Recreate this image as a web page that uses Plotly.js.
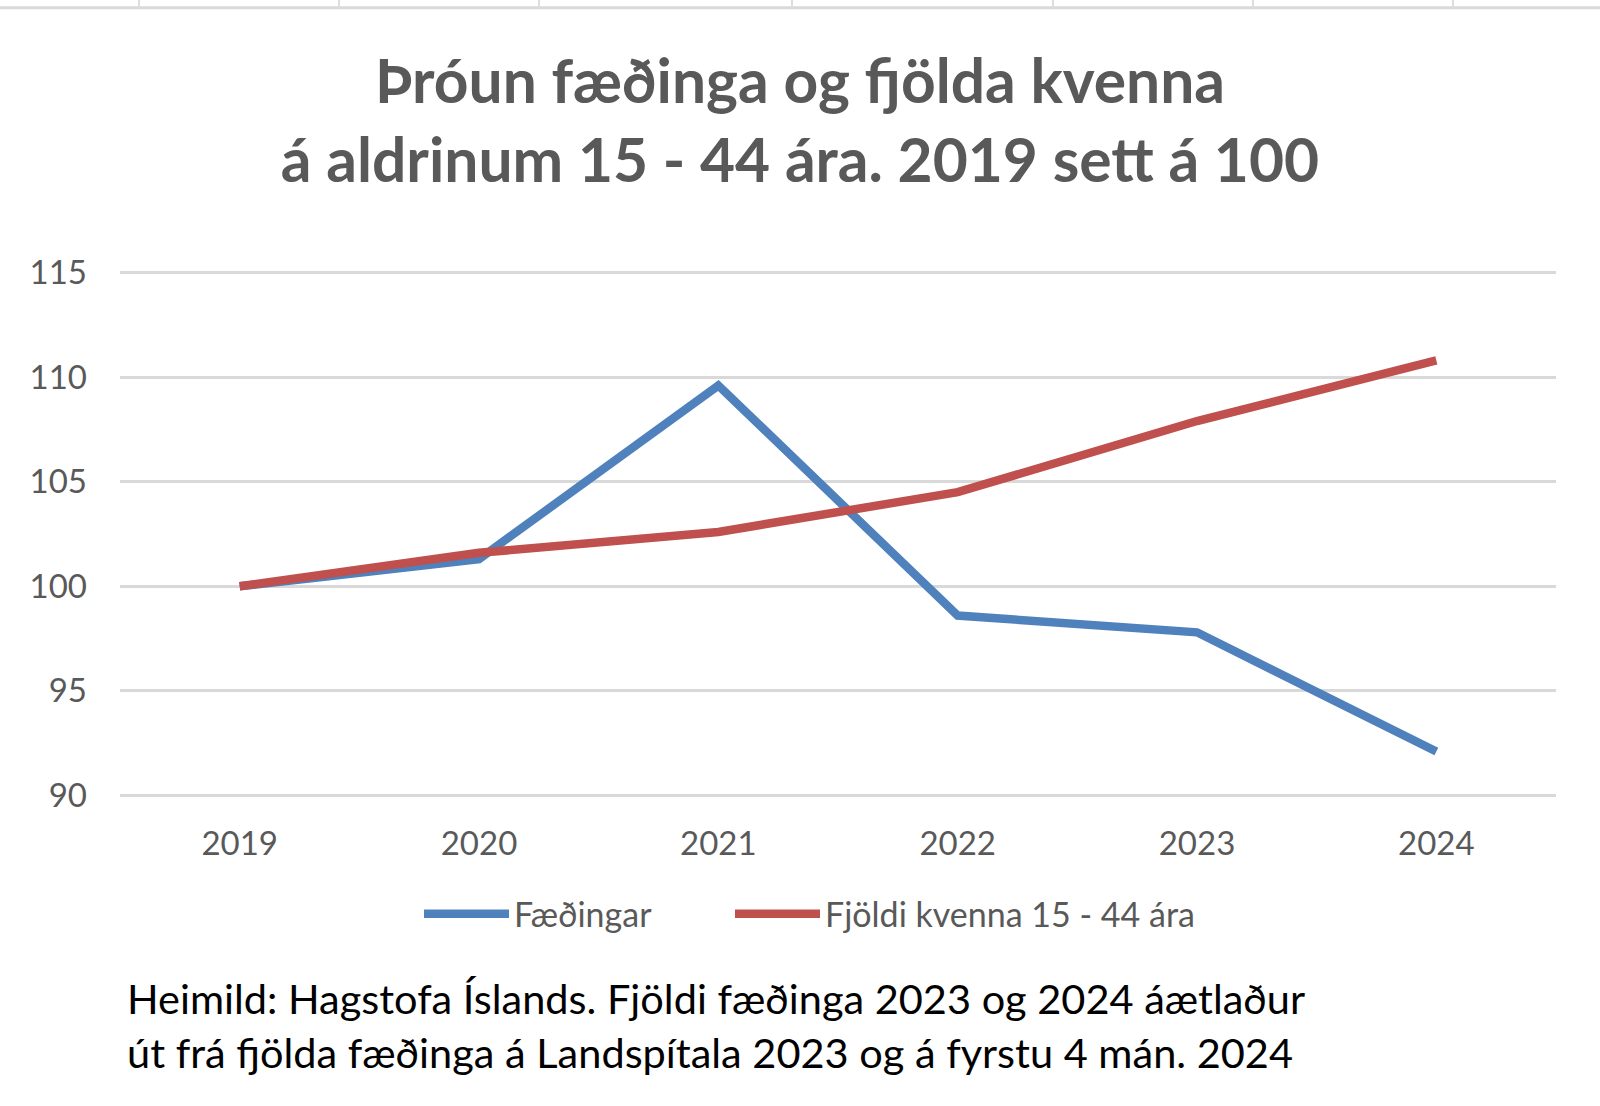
<!DOCTYPE html>
<html>
<head>
<meta charset="utf-8">
<script src="https://cdn.plot.ly/plotly-3.0.1.min.js"></script>
<style>html,body{margin:0;padding:0;background:#fff;}#chart{width:1600px;height:1106px;}</style>
</head>
<body>
<div id="chart"></div>
<script>
const years = ['2019', '2020', '2021', '2022', '2023', '2024'];
const faedingar = [100, 101.3, 109.6, 98.6, 97.8, 92.1];
const fjoldiKvenna = [100, 101.6, 102.6, 104.5, 107.9, 110.8];
const yTicks = [90, 95, 100, 105, 110, 115];
const seriesNames = ['Fæðingar', 'Fjöldi kvenna 15 - 44 ára'];
const titleText = 'Þróun fæðinga og fjölda kvenna<br>á aldrinum 15 - 44 ára. 2019 sett á 100';
const sourceLines = [
  'Heimild: Hagstofa Íslands. Fjöldi fæðinga 2023 og 2024 áætlaður',
  'út frá fjölda fæðinga á Landspítala 2023 og á fyrstu 4 mán. 2024'
];

const FONT = 'Lato, "Open Sans", sans-serif';
const W = 1600, H = 1106;
const unit = 20.9;       // px per y unit
const pad = 0.12;        // small range padding so edge gridlines are drawn
const yLo = 90 - pad, yHi = 115 + pad;
const L = 120, R = 44;
const T = 273 - pad * unit;
const B = H - 795.5 - pad * unit;
const plotW = W - L - R, plotH = H - T - B;
const px = X => (X - L) / plotW;
const py = Y => (H - B - Y) / plotH;

const traces = [
  {x: years, y: faedingar, name: seriesNames[0], type: 'scatter', mode: 'lines',
   line: {color: '#4F81BD', width: 8.5}, legend: 'legend'},
  {x: years, y: fjoldiKvenna, name: seriesNames[1], type: 'scatter', mode: 'lines',
   line: {color: '#C0504D', width: 8.5}, legend: 'legend2'}
];

const shapes = [
  {type: 'line', xref: 'paper', yref: 'paper', x0: px(0), x1: px(W), y0: py(8.5), y1: py(8.5),
   line: {color: '#d9d9d9', width: 3}}
];
[139, 339, 539, 792, 1053, 1253, 1453].forEach(X => {
  shapes.push({type: 'line', xref: 'paper', yref: 'paper', x0: px(X), x1: px(X), y0: py(0), y1: py(7),
    line: {color: '#dedede', width: 2}});
});

const annotations = sourceLines.map((t, i) => ({
  text: t, xref: 'paper', yref: 'paper', x: px(125), y: py([998, 1052][i]),
  xanchor: 'left', yanchor: 'middle', showarrow: false, align: 'left',
  font: {family: FONT, size: 41.5, color: '#000000'}
}));

const legendBase = {
  orientation: 'h', xanchor: 'left', y: py(914), yanchor: 'middle', itemwidth: 85,
  font: {family: FONT, size: 34, color: '#595959'}, bgcolor: 'rgba(0,0,0,0)',
  itemclick: false, itemdoubleclick: false
};

const layout = {
  width: W, height: H,
  margin: {l: L, r: R, t: T, b: B, pad: 0},
  paper_bgcolor: '#ffffff', plot_bgcolor: '#ffffff',
  title: {text: titleText, x: 0.5, xanchor: 'center', y: 1 - 103 / H, yanchor: 'middle',
    font: {family: FONT, size: 60.5, color: '#595959', weight: 'bold'}},
  xaxis: {type: 'category', range: [-0.5, 5.5], showgrid: false, zeroline: false, showline: false,
    ticks: '', ticklabelstandoff: 23, tickfont: {family: FONT, size: 33, color: '#595959'}, fixedrange: true},
  yaxis: {range: [yLo, yHi], tickvals: yTicks, ticktext: yTicks.map(String), showgrid: true,
    gridcolor: '#d9d9d9', gridwidth: 3, zeroline: false, showline: false, ticks: '',
    ticklabelstandoff: 32, tickfont: {family: FONT, size: 33, color: '#595959'}, fixedrange: true},
  showlegend: true,
  legend: Object.assign({}, legendBase, {x: px(419)}),
  legend2: Object.assign({}, legendBase, {x: px(730)}),
  shapes: shapes,
  annotations: annotations
};

Plotly.newPlot('chart', traces, layout, {displayModeBar: false, staticPlot: true});
</script>
</body>
</html>
